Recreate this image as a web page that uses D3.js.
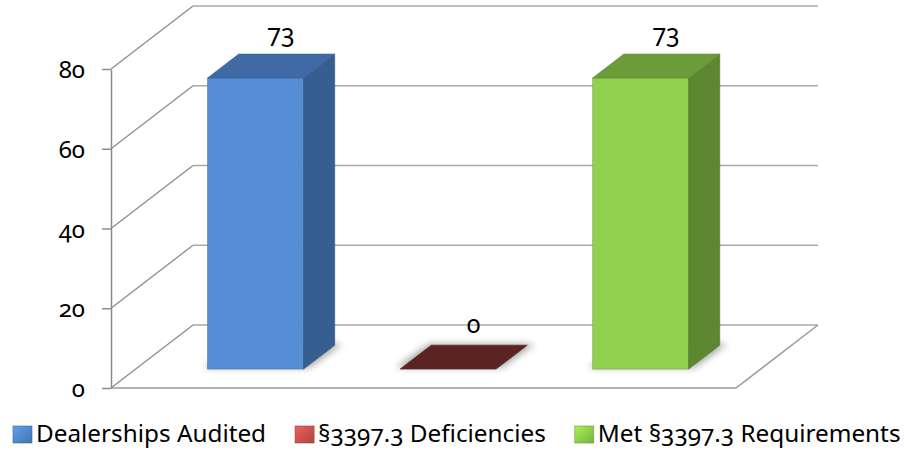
<!DOCTYPE html>
<html>
<head>
<meta charset="utf-8">
<script src="https://cdn.jsdelivr.net/npm/d3@7"></script>
<style>
  html, body { margin: 0; padding: 0; background: #fff; }
  svg text { font-family: "Noto Sans", "Open Sans", sans-serif; font-variant-numeric: oldstyle-nums; fill: #000; }
</style>
</head>
<body>
<script>
// Audit results, drawn as a 3-D column chart
const categories = ["Dealerships Audited", "§3397.3 Deficiencies", "Met §3397.3 Requirements"];
const values = [73, 0, 73];
const yTicks = [0, 20, 40, 60, 80];

// palette per series: front face, side face, top face, legend swatch
const palette = [
  { front: "#558ED5", side: "#375E91", top: "#3F6AA5", key: "#4F86C6" },
  { front: "#7A2C2B", side: "#4A1A1A", top: "#5B2322", key: "#C9504D" },
  { front: "#92D050", side: "#5E8731", top: "#6C9B3A", key: "#8CCB4A" }
];

const W = 904, H = 450;
const svg = d3.select("body").append("svg").attr("width", W).attr("height", H);

// oblique projection: depth z in [0,1] shifts a point right and up
const DX = 82, DY = -63;
const x = d3.scalePoint().domain(categories).range([111, 736]).padding(0.623);
const y = d3.scaleLinear().domain([0, 80]).range([388, 69]);
const P = (px, v, z) => [px + DX * z, y(v) + DY * z];
const poly = pts => pts.map(p => p.join(",")).join(" ");

const defs = svg.append("defs");
defs.append("filter").attr("id", "soft").attr("x", "-50%").attr("y", "-50%").attr("width", "200%").attr("height", "200%")
  .append("feGaussianBlur").attr("stdDeviation", 3.5);

palette.forEach((c, i) => {
  const g = defs.append("linearGradient").attr("id", "key" + i)
    .attr("x1", 0).attr("y1", 0).attr("x2", 1).attr("y2", 1);
  g.append("stop").attr("offset", "0%").attr("stop-color", d3.color(c.key).brighter(0.5));
  g.append("stop").attr("offset", "100%").attr("stop-color", d3.color(c.key).darker(0.4));
});

const x0 = 111, x1 = 736;

// walls and floor
const grid = svg.append("g").attr("fill", "none");
yTicks.forEach(t => {
  grid.append("line")
    .attr("x1", P(x0, t, 1)[0]).attr("y1", P(x0, t, 1)[1])
    .attr("x2", P(x1, t, 1)[0]).attr("y2", P(x1, t, 1)[1])
    .attr("stroke", "#A9A9A9").attr("stroke-width", 1.5);
  grid.append("line")
    .attr("x1", P(x0, t, 0)[0]).attr("y1", P(x0, t, 0)[1])
    .attr("x2", P(x0, t, 1)[0]).attr("y2", P(x0, t, 1)[1])
    .attr("stroke", "#8C8C8C").attr("stroke-width", 1.3);
});
grid.append("polyline")
  .attr("points", poly([P(x0, 0, 0), P(x1, 0, 0), P(x1, 0, 1)]))
  .attr("stroke", "#9A9A9A").attr("stroke-width", 1.5);

// y axis on the front edge
const axis = svg.append("g").attr("transform", `translate(${x0},0)`)
  .call(d3.axisLeft(y).tickValues(yTicks).tickSize(9).tickSizeOuter(0).tickPadding(17));
axis.select(".domain").attr("stroke", "#8C8C8C").attr("stroke-width", 1.5);
axis.selectAll(".tick line").attr("stroke", "#8C8C8C").attr("stroke-width", 1.5);
axis.selectAll(".tick text").attr("font-size", 24).attr("dy", "0.36em")
  .style("font-family", '"Noto Sans", sans-serif');

// columns
const Z0 = 0.30, Z1 = 0.68, HW = 48;
const bars = svg.append("g");
categories.forEach((cat, i) => {
  const v = values[i], c = palette[i], cx = x(cat);
  const L = cx - HW, R = cx + HW;
  // soft floor shadow
  bars.append("polygon")
    .attr("points", poly([P(L - 6, 0, Z0 + 0.02), P(R + 4, 0, Z0 + 0.02), P(R + 6, 0, Z1 + 0.02), P(L - 4, 0, Z1 + 0.02)]))
    .attr("fill", "#000").attr("opacity", 0.35).attr("filter", "url(#soft)");
  if (v > 0) {
    bars.append("polygon")
      .attr("points", poly([P(L, 0, Z0), P(R, 0, Z0), P(R, v, Z0), P(L, v, Z0)]))
      .attr("fill", c.front).attr("stroke", d3.color(c.front).darker(0.6)).attr("stroke-width", 0.6);
    bars.append("polygon")
      .attr("points", poly([P(R, 0, Z0), P(R, 0, Z1), P(R, v, Z1), P(R, v, Z0)]))
      .attr("fill", c.side).attr("stroke", d3.color(c.side).darker(0.3)).attr("stroke-width", 0.6);
  }
  bars.append("polygon")
    .attr("points", poly([P(L, v, Z0), P(R, v, Z0), P(R, v, Z1), P(L, v, Z1)]))
    .attr("fill", c.top).attr("stroke", d3.color(c.top).darker(0.3)).attr("stroke-width", 0.6);

  // value label above the column
  const lp = P(cx, v, 0.61);
  bars.append("text")
    .attr("x", lp[0]).attr("y", P(cx, v, Z1)[1] - 12)
    .attr("text-anchor", "middle").attr("font-size", 25)
    .text(v);
});

// legend
const legend = svg.append("g").attr("transform", "translate(13,0)");
let lx = 0;
categories.forEach((cat, i) => {
  const item = legend.append("g").attr("transform", `translate(${lx},0)`);
  item.append("rect").attr("x", 0).attr("y", 426).attr("width", 19).attr("height", 17)
    .attr("fill", `url(#key${i})`).attr("stroke", d3.color(palette[i].key).darker(0.8)).attr("stroke-width", 0.6);
  const t = item.append("text").attr("x", 23).attr("y", 442).attr("font-size", 24.3)
    .text(cat);
  lx += 23 + t.node().getComputedTextLength() + 29;
});
</script>
</body>
</html>
